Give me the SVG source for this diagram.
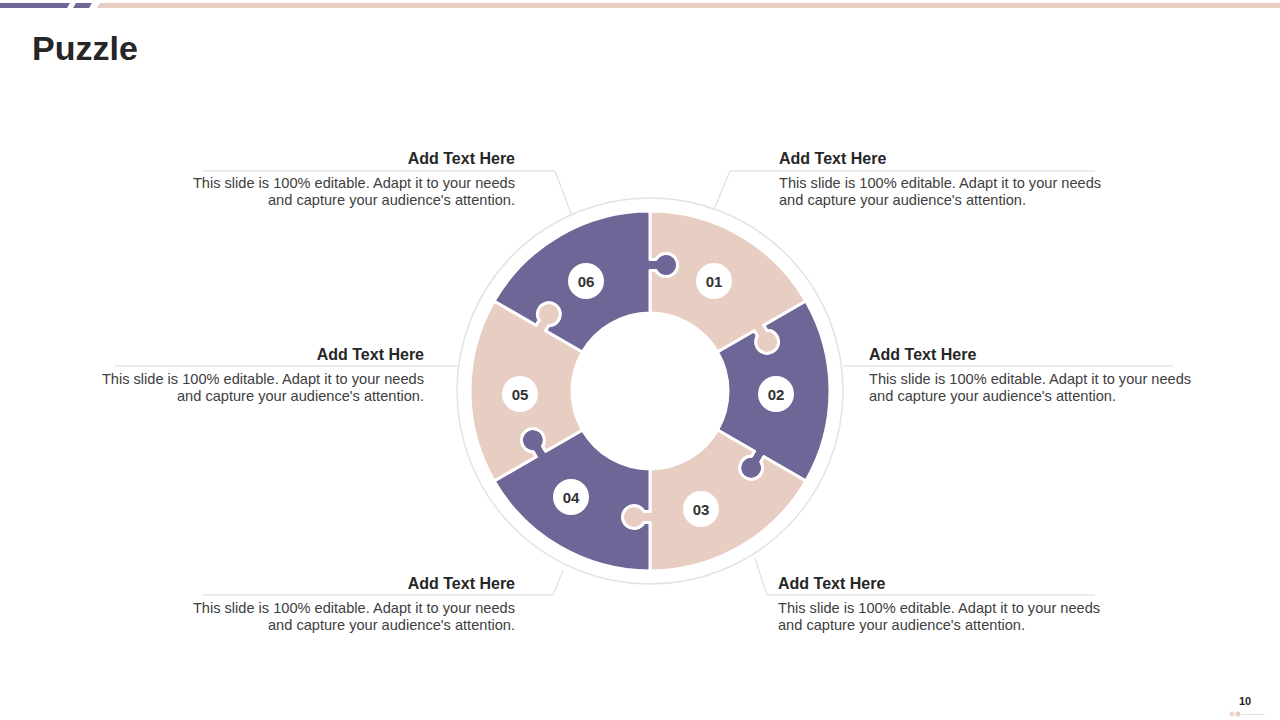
<svg xmlns="http://www.w3.org/2000/svg" width="1280" height="720" viewBox="0 0 1280 720">
<style>
.title{font-family:"Liberation Sans",Arial,sans-serif;font-weight:bold;font-size:34px;fill:#262626}
.head{font-family:"Liberation Sans",Arial,sans-serif;font-weight:bold;font-size:16px;fill:#262626}
.body{font-family:"Liberation Sans",Arial,sans-serif;font-size:14.6px;fill:#404040}
.num{font-family:"Liberation Sans",Arial,sans-serif;font-weight:bold;font-size:15px;fill:#333333;text-anchor:middle}
.pink{fill:#E8CDC3}
.purple{fill:#6E6696}
.piece{stroke:#ffffff;stroke-width:3;stroke-linejoin:round}
.lead{fill:none;stroke:#D9D9D9;stroke-width:1}
.r{text-anchor:end}
</style>
<defs>
<path id="pc" d="M0,-78 L0,-120.5 L5.9,-120.5 A11.5 11.5 0 1 0 5.9,-131.5 L0,-131.5 L0,-180 A180 180 0 0 1 155.88,-90 L113.88,-65.75 L116.83,-60.64 A11.5 11.5 0 1 1 107.31,-55.14 L104.36,-60.25 L67.55,-39 A78 78 0 0 0 0,-78 Z"/>
</defs>
<rect width="1280" height="720" fill="#ffffff"/>
<g id="topbar">
<polygon points="0,3 70,3 67,8 0,8" fill="#6E6696"/>
<polygon points="76,3 92,3 89,8 73,8" fill="#6E6696"/>
<polygon points="100,3 1280,3 1280,8 97,8" fill="#E8CDC3"/>
</g>
<text class="title" x="32" y="60">Puzzle</text>
<g id="connectors">
<polyline class="lead" points="203,171 555,171 572,216"/>
<polyline class="lead" points="1095,171 730,171 713,212"/>
<polyline class="lead" points="115,366 458,366"/>
<polyline class="lead" points="843,366 1173,366"/>
<polyline class="lead" points="203,595 553,595 563,570"/>
<polyline class="lead" points="755,558 767,595 1095,595"/>
</g>
<circle cx="650" cy="391" r="193" fill="#ffffff" stroke="#E3E3E3" stroke-width="1.5"/>
<g id="piece-01"><use href="#pc" class="piece pink" transform="translate(650,391) rotate(0)"/><circle cx="714" cy="281" r="18" fill="#fff"/><text class="num" x="714" y="286.5">01</text></g>
<g id="piece-02"><use href="#pc" class="piece purple" transform="translate(650,391) rotate(60)"/><circle cx="776" cy="394" r="18" fill="#fff"/><text class="num" x="776" y="399.5">02</text></g>
<g id="piece-03"><use href="#pc" class="piece pink" transform="translate(650,391) rotate(120)"/><circle cx="701" cy="509" r="18" fill="#fff"/><text class="num" x="701" y="514.5">03</text></g>
<g id="piece-04"><use href="#pc" class="piece purple" transform="translate(650,391) rotate(180)"/><circle cx="571" cy="497" r="18" fill="#fff"/><text class="num" x="571" y="502.5">04</text></g>
<g id="piece-05"><use href="#pc" class="piece pink" transform="translate(650,391) rotate(240)"/><circle cx="520" cy="394" r="18" fill="#fff"/><text class="num" x="520" y="399.5">05</text></g>
<g id="piece-06"><use href="#pc" class="piece purple" transform="translate(650,391) rotate(300)"/><circle cx="586" cy="281" r="18" fill="#fff"/><text class="num" x="586" y="286.5">06</text></g>
<g id="text-tl">
<text class="head r" x="515" y="164">Add Text Here</text>
<text class="body r" x="515" y="188">This slide is 100% editable.  Adapt it to your needs</text>
<text class="body r" x="515" y="205">and capture your audience's attention.</text>
</g>
<g id="text-tr">
<text class="head" x="779" y="164">Add Text Here</text>
<text class="body" x="779" y="188">This slide is 100% editable.  Adapt it to your needs</text>
<text class="body" x="779" y="205">and capture your audience's attention.</text>
</g>
<g id="text-ml">
<text class="head r" x="424" y="360">Add Text Here</text>
<text class="body r" x="424" y="384">This slide is 100% editable.  Adapt it to your needs</text>
<text class="body r" x="424" y="401">and capture your audience's attention.</text>
</g>
<g id="text-mr">
<text class="head" x="869" y="360">Add Text Here</text>
<text class="body" x="869" y="384">This slide is 100% editable.  Adapt it to your needs</text>
<text class="body" x="869" y="401">and capture your audience's attention.</text>
</g>
<g id="text-bl">
<text class="head r" x="515" y="589">Add Text Here</text>
<text class="body r" x="515" y="613">This slide is 100% editable.  Adapt it to your needs</text>
<text class="body r" x="515" y="630">and capture your audience's attention.</text>
</g>
<g id="text-br">
<text class="head" x="778" y="589">Add Text Here</text>
<text class="body" x="778" y="613">This slide is 100% editable.  Adapt it to your needs</text>
<text class="body" x="778" y="630">and capture your audience's attention.</text>
</g>
<g id="footer">
<text x="1245" y="705" font-family="'Liberation Sans',Arial,sans-serif" font-weight="bold" font-size="11" fill="#262626" text-anchor="middle">10</text>
<circle cx="1232" cy="714" r="2.5" fill="#F0D8D0"/>
<circle cx="1238" cy="714" r="2.5" fill="#E8CDC3"/>
<line x1="1242" y1="714.5" x2="1265" y2="714.5" stroke="#E0E0E0" stroke-width="1"/>
</g>
</svg>
